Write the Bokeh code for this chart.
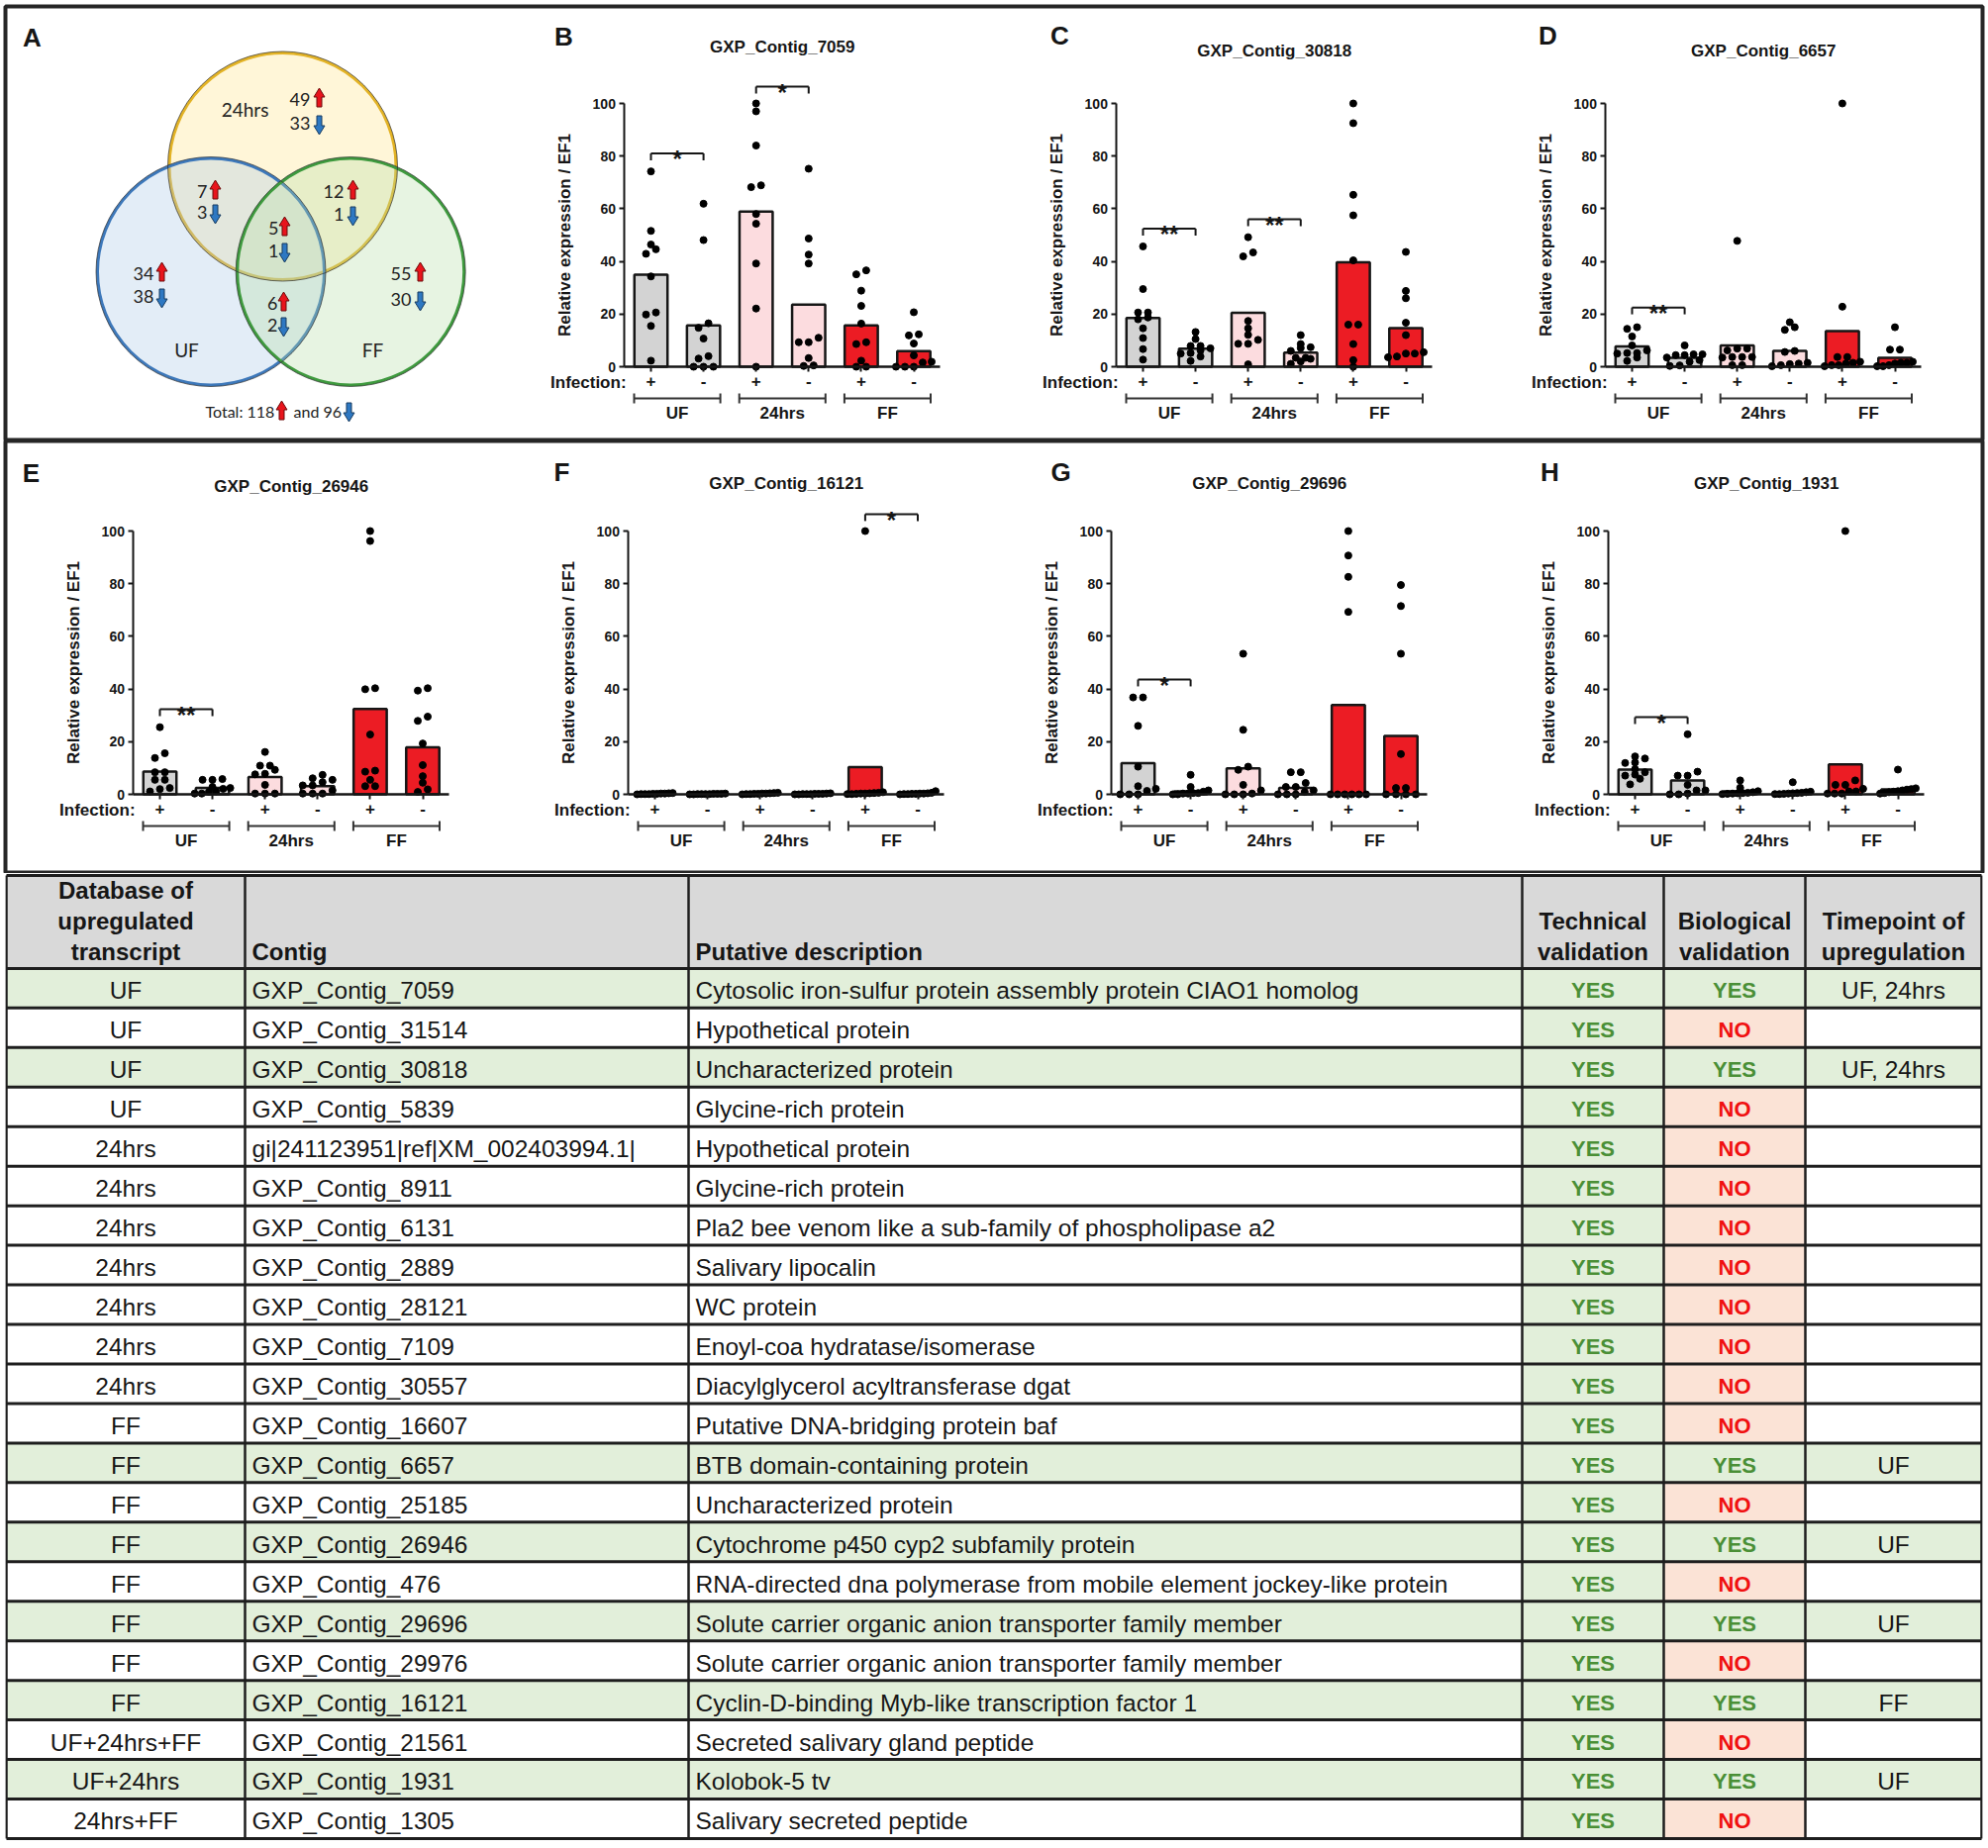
from bokeh.plotting import figure
from bokeh.models import Range1d, LinearAxis, FixedTicker
from bokeh.layouts import column
from bokeh.embed import file_html
from bokeh.resources import INLINE
from bokeh.core.properties import value

# ------------------------------------------------------------------ data
groups = ["UF", "24hrs", "FF"]
infection_labels = ["+", "-", "+", "-", "+", "-"]
y_ticks = [0, 20, 40, 60, 80, 100]
y_label = "Relative expression / EF1"

contig_B = "GXP_Contig_7059"
bars_B = [35.0, 15.7, 58.9, 23.6, 15.7, 5.9]
dots_B = [[74.2, 51.6, 44.6, 46.4, 42.9, 34.3, 19.8, 20.6, 15.5, 2.3],
          [61.9, 48.1, 16.5, 14.8, 10.7, 4.0, 3.1, 0.0, 0.0, 0.0],
          [100.0, 97.0, 84.0, 68.9, 68.2, 58.0, 54.3, 39.2, 22.1, 0.0],
          [75.2, 48.7, 42.6, 39.2, 11.0, 9.3, 9.3, 3.3, 0.3, 0.5],
          [36.6, 35.1, 28.9, 23.1, 16.4, 9.3, 8.6, 2.3, 0.0, 0.0],
          [20.7, 11.9, 12.3, 8.8, 4.3, 1.9, 1.6, 0.0, 0.0, 0.0]]
sig_B = [(0, 1, 81.0, "*"), (2, 3, 106.4, "*")]

contig_C = "GXP_Contig_30818"
bars_C = [18.5, 6.9, 20.5, 5.4, 39.7, 14.7]
dots_C = [[45.7, 29.5, 20.6, 20.6, 18.7, 18.0, 14.6, 10.9, 6.7, 2.7],
          [13.2, 10.5, 7.9, 7.9, 6.2, 5.2, 5.0, 3.9, 2.2, 7.0],
          [49.2, 43.4, 41.9, 17.4, 14.6, 12.1, 10.2, 8.7, 8.7, 0.9],
          [12.0, 8.6, 7.4, 7.1, 6.0, 3.4, 3.4, 2.0, 1.1, 3.0],
          [100.0, 92.5, 65.3, 57.5, 40.4, 16.0, 16.0, 8.6, 2.5, 0.0],
          [43.6, 28.8, 26.0, 16.7, 12.0, 5.5, 5.0, 5.0, 3.9, 3.6]]
sig_C = [(0, 1, 52.4, "**"), (2, 3, 56.0, "**")]

contig_D = "GXP_Contig_6657"
bars_D = [7.7, 3.4, 8.1, 6.0, 13.5, 3.4]
dots_D = [[15.0, 14.4, 11.5, 8.1, 6.2, 5.2, 5.2, 5.0, 3.5, 2.2],
          [8.1, 4.7, 4.7, 4.4, 4.4, 3.5, 2.5, 1.9, 0.5, 0.3],
          [47.8, 6.9, 6.9, 6.2, 3.7, 3.7, 3.7, 3.5, 0.6, 0.6],
          [16.9, 15.0, 14.0, 6.0, 5.6, 1.5, 1.2, 1.0, 0.6, 0.2],
          [100.0, 22.8, 3.7, 3.7, 1.9, 1.5, 1.2, 0.6, 0.6, 0.2],
          [15.0, 6.5, 6.5, 1.9, 1.5, 1.5, 1.2, 0.6, 0.2, 0.2]]
sig_D = [(0, 1, 22.5, "**")]

contig_E = "GXP_Contig_26946"
bars_E = [8.6, 2.4, 6.6, 3.1, 32.4, 17.9]
dots_E = [[25.5, 15.6, 13.8, 8.4, 8.4, 5.5, 5.5, 2.4, 2.0, 1.1],
          [5.8, 5.5, 5.5, 2.8, 2.4, 2.1, 1.1, 0.9, 0.3, 0.3],
          [16.1, 10.9, 10.9, 9.3, 7.8, 7.6, 3.6, 0.3, 0.3, 0.3],
          [7.4, 6.1, 5.5, 4.6, 3.4, 3.4, 1.5, 0.3, 0.3, 0.3],
          [100.0, 96.2, 39.9, 40.3, 22.7, 9.0, 8.6, 5.5, 3.1, 3.1],
          [40.3, 39.4, 29.5, 27.9, 19.3, 11.1, 6.9, 4.4, 1.9, 0.9]]
sig_E = [(0, 1, 32.3, "**")]

contig_F = "GXP_Contig_16121"
bars_F = [0.2, 0.1, 0.3, 0.2, 10.3, 0.4]
dots_F = [[0.5, 0.4, 0.3, 0.3, 0.2, 0.2, 0.1, 0.1, 0.1, 0.0],
          [0.3, 0.2, 0.2, 0.2, 0.1, 0.1, 0.1, 0.1, 0.0, 0.0],
          [0.6, 0.5, 0.4, 0.3, 0.3, 0.2, 0.2, 0.1, 0.1, 0.0],
          [0.4, 0.3, 0.2, 0.2, 0.2, 0.1, 0.1, 0.1, 0.0, 0.0],
          [100.0, 0.8, 0.6, 0.5, 0.4, 0.3, 0.3, 0.2, 0.1, 0.1],
          [1.2, 0.6, 0.4, 0.3, 0.3, 0.2, 0.2, 0.1, 0.1, 0.0]]
sig_F = [(4, 5, 106.4, "*")]

contig_G = "GXP_Contig_29696"
bars_G = [11.8, 1.1, 9.9, 2.4, 33.9, 22.2]
dots_G = [[36.8, 36.8, 26.0, 10.5, 3.1, 2.1, 1.3, 0.0, 0.0, 0.0],
          [7.4, 2.8, 1.5, 1.0, 0.5, 0.5, 0.3, 0.3, 0.0, 0.0],
          [53.4, 24.5, 10.5, 9.3, 3.6, 1.5, 0.3, 0.0, 0.0, 0.0],
          [8.4, 8.4, 4.3, 2.8, 2.8, 1.5, 0.9, 0.0, 0.0, 0.0],
          [100.0, 90.7, 82.6, 69.3, 0.0, 0.0, 0.0, 0.0, 0.0, 0.0],
          [79.5, 71.5, 53.4, 15.3, 2.4, 2.4, 0.0, 0.0, 0.0, 0.0]]
sig_G = [(0, 1, 43.6, "*")]

contig_H = "GXP_Contig_1931"
bars_H = [9.4, 5.3, 1.1, 0.6, 11.4, 1.9]
dots_H = [[14.4, 13.6, 12.1, 11.9, 9.6, 8.4, 7.1, 5.9, 3.8, 7.5],
          [22.8, 8.6, 7.1, 7.1, 3.6, 1.5, 1.5, 0.0, 0.0, 0.3],
          [5.3, 2.5, 1.2, 0.8, 0.6, 0.5, 0.4, 0.3, 0.2, 0.1],
          [4.6, 1.0, 0.8, 0.6, 0.5, 0.4, 0.3, 0.2, 0.1, 0.1],
          [100.0, 5.3, 3.6, 3.6, 2.1, 1.1, 1.1, 0.3, 0.3, 0.3],
          [9.4, 2.3, 2.0, 1.8, 1.5, 1.2, 1.0, 0.8, 0.5, 0.3]]
sig_H = [(0, 1, 29.3, "*")]

venn_sets = ["24hrs", "UF", "FF"]
venn_regions = ["24hrs", "UF", "FF", "24hrs+UF", "24hrs+FF", "UF+FF", "UF+24hrs+FF"]
venn_up = [49, 34, 55, 7, 12, 6, 5]
venn_down = [33, 38, 30, 3, 1, 2, 1]
total_up = 118
total_down = 96

tbl_header = ["Database of\nupregulated\ntranscript", "Contig", "Putative description",
              "Technical\nvalidation", "Biological\nvalidation", "Timepoint of\nupregulation"]
tbl_database = ["UF", "UF", "UF", "UF", "24hrs", "24hrs", "24hrs", "24hrs", "24hrs", "24hrs", "24hrs",
                "FF", "FF", "FF", "FF", "FF", "FF", "FF", "FF", "UF+24hrs+FF", "UF+24hrs", "24hrs+FF"]
tbl_contig = ["GXP_Contig_7059", "GXP_Contig_31514", "GXP_Contig_30818", "GXP_Contig_5839",
              "gi|241123951|ref|XM_002403994.1|", "GXP_Contig_8911", "GXP_Contig_6131", "GXP_Contig_2889",
              "GXP_Contig_28121", "GXP_Contig_7109", "GXP_Contig_30557", "GXP_Contig_16607",
              "GXP_Contig_6657", "GXP_Contig_25185", "GXP_Contig_26946", "GXP_Contig_476",
              "GXP_Contig_29696", "GXP_Contig_29976", "GXP_Contig_16121", "GXP_Contig_21561",
              "GXP_Contig_1931", "GXP_Contig_1305"]
tbl_description = ["Cytosolic iron-sulfur protein assembly protein CIAO1 homolog", "Hypothetical protein",
                   "Uncharacterized protein", "Glycine-rich protein", "Hypothetical protein",
                   "Glycine-rich protein", "Pla2 bee venom like a sub-family of phospholipase a2",
                   "Salivary lipocalin", "WC protein", "Enoyl-coa hydratase/isomerase",
                   "Diacylglycerol acyltransferase dgat", "Putative DNA-bridging protein baf",
                   "BTB domain-containing protein", "Uncharacterized protein",
                   "Cytochrome p450 cyp2 subfamily protein",
                   "RNA-directed dna polymerase from mobile element jockey-like protein",
                   "Solute carrier organic anion transporter family member",
                   "Solute carrier organic anion transporter family member",
                   "Cyclin-D-binding Myb-like transcription factor 1", "Secreted salivary gland peptide",
                   "Kolobok-5 tv", "Salivary secreted peptide"]
tbl_technical = ["YES"] * 22
tbl_biological = ["YES", "NO", "YES", "NO", "NO", "NO", "NO", "NO", "NO", "NO", "NO", "NO",
                  "YES", "NO", "YES", "NO", "YES", "NO", "YES", "NO", "YES", "NO"]
tbl_timepoint = ["UF, 24hrs", "", "UF, 24hrs", "", "", "", "", "", "", "", "", "",
                 "UF", "", "UF", "", "UF", "", "FF", "", "UF", ""]

# ------------------------------------------------------------------ styling / layout
CANVAS_W = 2006
FL, FR = 5, 2002          # frame left / right (page px)
PPU = 53.1                # px per bar slot
PPV = 2.66                # px per expression unit
FONT = "Liberation Sans"
VFONT = "Lato"
INK = "#161616"
bar_colors = ["#D3D3D3", "#D3D3D3", "#FCDCDF", "#FCDCDF", "#EC1C24", "#EC1C24"]


def style_fig(p):
    for g in p.grid:
        g.visible = False
    p.background_fill_color = "white"
    p.border_fill_color = "white"


def row_figure(frame_top, frame_bottom, y0_page, pad_top):
    p = figure(width=CANVAS_W, height=frame_bottom - frame_top + pad_top,
               x_range=Range1d(FL, FR), y_range=Range1d(frame_bottom, frame_top),
               output_backend="svg", toolbar_location=None, x_axis_location=None,
               y_axis_location=None, min_border_left=FL, min_border_right=CANVAS_W - FR,
               min_border_top=pad_top, min_border_bottom=0,
               outline_line_color="#262626", outline_line_width=4)
    style_fig(p)
    p.extra_y_ranges = {"v": Range1d(start=(y0_page - frame_bottom) / PPV,
                                     end=(y0_page - frame_top) / PPV)}
    return p


def swarm(vals, row_px=6.0, step_px=10.0, half_px=18.0):
    order = sorted(range(len(vals)), key=lambda k: vals[k])
    offs = [0.0] * len(vals)
    rows, cur = [], []
    for k in order:
        if cur and (vals[k] - vals[cur[0]]) * PPV < row_px:
            cur.append(k)
        else:
            if cur:
                rows.append(cur)
            cur = [k]
    rows.append(cur)
    for r in rows:
        n = len(r)
        if n < 2:
            continue
        sp = min(step_px, 2 * half_px / (n - 1))
        for j, k in enumerate(r):
            offs[k] = (j - (n - 1) / 2) * sp / PPU
    return offs


def txt(p, x, y, t, size, bold=False, align="center", baseline="middle", font=FONT,
        color=INK, **kw):
    p.text(x=x, y=y, text=t, text_font=value(font), text_font_size=value(size),
           text_font_style="bold" if bold else "normal", text_align=align,
           text_baseline=baseline, text_color=color, **kw)


def add_panel(p, key, first_bar, y0, letter, letter_xy, title, title_y, bars, dots, sig):
    xr = "x" + key
    p.extra_x_ranges[xr] = Range1d(start=(FL - first_bar) / PPU, end=(FR - first_bar) / PPU)
    cats = list(range(len(bars)))

    p.vbar(x=cats, top=bars, bottom=0, width=0.63, fill_color=bar_colors, line_color=INK,
           line_width=2.5, x_range_name=xr, y_range_name="v")
    xs, ys = [], []
    for i, grp in enumerate(dots):
        for o, v in zip(swarm(grp), grp):
            xs.append(i + o)
            ys.append(v)
    p.scatter(x=xs, y=ys, size=7, color="black", x_range_name=xr, y_range_name="v")

    yax = LinearAxis(x_range_name=xr, y_range_name="v", fixed_location=-0.5, bounds=(0, 100),
                     ticker=FixedTicker(ticks=y_ticks), axis_label=y_label,
                     axis_label_text_font=FONT, axis_label_text_font_size="17px",
                     axis_label_text_font_style="bold", axis_label_text_color=INK,
                     axis_label_standoff=15, major_label_text_font=FONT,
                     major_label_text_font_size="14px", major_label_text_font_style="bold",
                     major_label_text_color=INK, major_label_standoff=4,
                     major_tick_out=5, major_tick_in=0, minor_tick_out=0, minor_tick_in=0,
                     axis_line_width=2, major_tick_line_width=2, axis_line_color=INK,
                     major_tick_line_color=INK)
    p.add_layout(yax, "left")
    xax = LinearAxis(x_range_name=xr, y_range_name="v", fixed_location=0,
                     bounds=(-0.5, len(bars) - 0.5), ticker=FixedTicker(ticks=cats),
                     major_label_overrides={i: lab for i, lab in zip(cats, infection_labels)},
                     major_label_text_font=FONT, major_label_text_font_size="17px",
                     major_label_text_font_style="bold", major_label_text_color=INK,
                     major_label_standoff=3, major_tick_out=5, major_tick_in=0,
                     minor_tick_out=0, minor_tick_in=0, axis_line_width=2.5,
                     major_tick_line_width=2, axis_line_color=INK, major_tick_line_color=INK)
    p.add_layout(xax, "below")

    txt(p, [-0.47], [y0 + 16], ["Infection:"], "17px", bold=True, align="right", x_range_name=xr)
    gy = y0 + 32
    gx0 = [2 * g - 0.32 for g in range(len(groups))]
    gx1 = [2 * g + 1.32 for g in range(len(groups))]
    p.segment(x0=gx0, y0=[gy] * 3, x1=gx1, y1=[gy] * 3, line_color="#333333", line_width=2,
              x_range_name=xr)
    p.segment(x0=gx0 + gx1, y0=[gy - 5] * 6, x1=gx0 + gx1, y1=[gy + 5] * 6,
              line_color="#333333", line_width=2, x_range_name=xr)
    txt(p, [2 * g + 0.5 for g in range(len(groups))], [y0 + 47] * 3, groups, "17px", bold=True,
        x_range_name=xr)

    for (i0, i1, h, star) in sig:
        p.segment(x0=[i0, i0, i1], y0=[h, h, h], x1=[i1, i0, i1], y1=[h, h - 2.6, h - 2.6],
                  line_color=INK, line_width=2, x_range_name=xr, y_range_name="v")
        txt(p, [(i0 + i1) / 2], [h - 2.2], [star], "24px", bold=True, baseline="alphabetic",
            x_range_name=xr, y_range_name="v")

    txt(p, [2.5], [title_y], [title], "17px", bold=True, x_range_name=xr)
    txt(p, [letter_xy[0]], [letter_xy[1]], [letter], "26px", bold=True)


def arrow_poly(cx, cy, up, h=19.0, sw=5.0, hw=11.0, hh=9.0):
    t, b = cy - h / 2, cy + h / 2
    xs = [cx, cx + hw / 2, cx + sw / 2, cx + sw / 2, cx - sw / 2, cx - sw / 2, cx - hw / 2]
    if up:
        ys = [t, t + hh, t + hh, b, b, t + hh, t + hh]
    else:
        ys = [b, b - hh, b - hh, t, t, b - hh, b - hh]
    return xs, ys


# ------------------------------------------------------------------ row 1 (page px 6..445)
p1 = row_figure(6, 445, 370, 6)

# Venn diagram (A)
vc = {"24hrs": (285, 167.5, "#FFE38A", "#E3B326"),
      "UF": (212.5, 274, "#A9C8E8", "#3D78BA"),
      "FF": (353.7, 274, "#B5DDA8", "#3E9A3E")}
for s in venn_sets:
    cx, cy, fc, lc = vc[s]
    p1.scatter(x=[cx], y=[cy], size=229, marker="circle", fill_color=fc,
               fill_alpha=0.33, line_color=lc, line_width=3)
for s in venn_sets:
    cx, cy, fc, lc = vc[s]
    p1.scatter(x=[cx], y=[cy], size=232, marker="circle", fill_color=None,
               line_color="#303030", line_width=1, line_alpha=0.7)
set_pos = {"24hrs": (247, 110), "UF": (188, 353), "FF": (376, 353)}
txt(p1, [set_pos[s][0] for s in venn_sets], [set_pos[s][1] for s in venn_sets],
    venn_sets, "19px", font=VFONT, color="#222222")
reg_pos = {"24hrs": (313, 100, 124, 322), "UF": (155, 276, 299, 163),
           "FF": (415, 276, 302, 424), "24hrs+UF": (209, 193, 214, 217),
           "24hrs+FF": (347, 193, 216, 356), "UF+FF": (280, 306, 328, 286),
           "UF+24hrs+FF": (281, 230, 253, 287)}
up_x, up_y, dn_x, dn_y, up_t, dn_t = [], [], [], [], [], []
uxs, uys, dxs, dys = [], [], [], []
for r, u, d in zip(venn_regions, venn_up, venn_down):
    tx, yu, yd, ax = reg_pos[r]
    up_x.append(tx); up_y.append(yu); up_t.append(str(u))
    dn_x.append(tx); dn_y.append(yd); dn_t.append(str(d))
    a = arrow_poly(ax, yu - 2, True)
    uxs.append(a[0]); uys.append(a[1])
    a = arrow_poly(ax, yd + 2, False)
    dxs.append(a[0]); dys.append(a[1])
txt(p1, up_x + dn_x, up_y + dn_y, up_t + dn_t, "18px", font=VFONT, align="right",
    color="#222222")
txt(p1, [207], [415], ["Total: " + str(total_up)], "16px", font=VFONT, align="left",
    color="#222222")
txt(p1, [296], [415], ["and " + str(total_down)], "16px", font=VFONT, align="left",
    color="#222222")
a = arrow_poly(284, 414, True)
uxs.append(a[0]); uys.append(a[1])
a = arrow_poly(352, 416, False)
dxs.append(a[0]); dys.append(a[1])
p1.patches(xs=uxs, ys=uys, fill_color="#E8141C", line_color="#6B0A0A", line_width=1)
p1.patches(xs=dxs, ys=dys, fill_color="#2E78C2", line_color="#163A5E", line_width=1)
txt(p1, [32], [37], ["A"], "26px", bold=True)

add_panel(p1, "B", 657, 370, "B", (569, 36), contig_B, 47, bars_B, dots_B, sig_B)
add_panel(p1, "C", 1154, 370, "C", (1070, 35), contig_C, 51, bars_C, dots_C, sig_C)
add_panel(p1, "D", 1648, 370, "D", (1563, 35), contig_D, 51, bars_D, dots_D, sig_D)

# ------------------------------------------------------------------ row 2 (page px 445..882)
p2 = row_figure(445, 882, 802, 0)
add_panel(p2, "E", 161, 802, "E", (31, 477), contig_E, 491, bars_E, dots_E, sig_E)
add_panel(p2, "F", 661, 802, "F", (567, 476), contig_F, 488, bars_F, dots_F, sig_F)
add_panel(p2, "G", 1149, 802, "G", (1071, 476), contig_G, 488, bars_G, dots_G, sig_G)
add_panel(p2, "H", 1651, 802, "H", (1565, 476), contig_H, 488, bars_H, dots_H, sig_H)

# ------------------------------------------------------------------ table (page px 882..1859)
n_rows = len(tbl_contig)
HDR = 2.35
PAD = 0.05
p3 = figure(width=CANVAS_W, height=977, x_range=Range1d(FL, FR),
            y_range=Range1d(n_rows + PAD, -HDR - PAD), output_backend="svg",
            toolbar_location=None, x_axis_location=None, y_axis_location=None,
            min_border_left=FL, min_border_right=CANVAS_W - FR, min_border_top=0,
            min_border_bottom=0, outline_line_color=None)
style_fig(p3)
cols = [6, 247, 695, 1537, 1680, 1823, 2001]
GREEN, PINK, GREY = "#E2EFDA", "#FBE3D6", "#D9D9D9"

ql, qr, qt, qb, qc = [], [], [], [], []
for i in range(n_rows):
    for c in range(6):
        if tbl_biological[i] == "YES":
            col = GREEN
        elif c == 3 and tbl_technical[i] == "YES":
            col = GREEN
        elif c == 4:
            col = PINK
        else:
            col = "white"
        ql.append(cols[c]); qr.append(cols[c + 1]); qt.append(i); qb.append(i + 1); qc.append(col)
ql.append(cols[0]); qr.append(cols[-1]); qt.append(-HDR); qb.append(0); qc.append(GREY)
p3.quad(left=ql, right=qr, top=qt, bottom=qb, fill_color=qc, line_color=None)

hy = [-HDR] + list(range(n_rows + 1))
p3.segment(x0=[cols[0]] * len(hy), x1=[cols[-1]] * len(hy), y0=hy, y1=hy,
           line_color="#1E1E1E", line_width=3)
p3.segment(x0=cols, x1=cols, y0=[-HDR] * len(cols), y1=[n_rows] * len(cols),
           line_color="#1E1E1E", line_width=2.5)

line_y = [-1.98, -1.2, -0.42]
hx, hyy, ht, ha = [], [], [], []
for c, h in enumerate(tbl_header):
    parts = h.split("\n")
    ys = line_y[len(line_y) - len(parts):]
    for part, yv in zip(parts, ys):
        if c in (1, 2):
            hx.append(cols[c] + 7); ha.append("left")
        else:
            hx.append((cols[c] + cols[c + 1]) / 2); ha.append("center")
        hyy.append(yv); ht.append(part)
p3.text(x=hx, y=hyy, text=ht, text_align=ha, text_baseline="middle", text_font=value(FONT),
        text_font_size=value("24px"), text_font_style="bold", text_color=INK)

rows_y = [i + 0.56 for i in range(n_rows)]
txt(p3, [(cols[0] + cols[1]) / 2] * n_rows, rows_y, tbl_database, "24.5px")
txt(p3, [cols[1] + 7] * n_rows, rows_y, tbl_contig, "24.5px", align="left")
txt(p3, [cols[2] + 7] * n_rows, rows_y, tbl_description, "24.5px", align="left")
txt(p3, [(cols[5] + cols[6]) / 2] * n_rows, rows_y, tbl_timepoint, "24.5px")
txt(p3, [(cols[3] + cols[4]) / 2] * n_rows, rows_y, tbl_technical, "22px", bold=True,
    color="#4A8F36")
bio_colors = ["#4A8F36" if b == "YES" else "#F01010" for b in tbl_biological]
p3.text(x=[(cols[4] + cols[5]) / 2] * n_rows, y=rows_y, text=tbl_biological,
        text_align="center", text_baseline="middle", text_font=value(FONT),
        text_font_size=value("22px"), text_font_style="bold", text_color=bio_colors)

layout = column(p1, p2, p3, spacing=0)
open("out.html", "w").write(file_html(layout, INLINE))
